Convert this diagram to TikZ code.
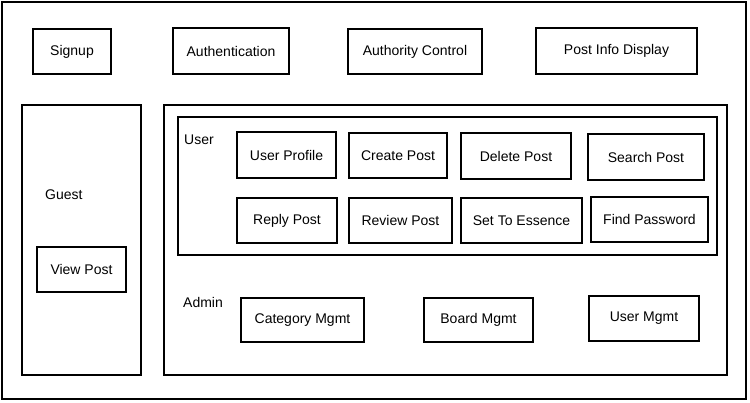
\documentclass[tikz,border=0pt]{standalone}
\usepackage{fontspec}
\setmainfont{Liberation Sans}
\begin{document}
\begin{tikzpicture}[x=1pt,y=-1pt,
  box/.style={draw=black, line width=2.2pt, rectangle, inner sep=0pt, font=\fontsize{14}{16}\selectfont},
  frame/.style={draw=black, line width=2.2pt, rectangle, inner sep=0pt},
  lbl/.style={inner sep=0pt, anchor=west, font=\fontsize{14}{16}\selectfont}]
\useasboundingbox (0,0) rectangle (750,403);
\fill[white] (0,0) rectangle (750,403);
% outer frame
\node[frame, minimum width=744pt, minimum height=397pt] (outer) at (374,200.5) {};
% top row
\node[box, minimum width=78pt, minimum height=45pt] (signup) at (72,51.5) {Signup};
\node[box, minimum width=116pt, minimum height=46pt] (auth) at (231,51) {Authentication};
\node[box, minimum width=134pt, minimum height=45pt] (authz) at (415,51.5) {Authority Control};
\node[box, minimum width=161pt, minimum height=46pt] (pinfo) at (616.5,51) {Post Info Display};
% guest
\node[frame, minimum width=119pt, minimum height=270pt] (guestbox) at (81.5,240) {};
\node[lbl] (guest) at (45,195) {Guest};
\node[box, minimum width=89pt, minimum height=45pt] (view) at (81.5,269.5) {View Post};
% main
\node[frame, minimum width=563pt, minimum height=270pt] (mainbox) at (445.5,240) {};
\node[frame, minimum width=539pt, minimum height=138pt] (userbox) at (447.5,186) {};
\node[lbl] (user) at (184,140) {User};
\node[box, minimum width=99pt, minimum height=46pt] (uprof) at (286.5,155) {User Profile};
\node[box, minimum width=98pt, minimum height=45pt] (cpost) at (398,155.5) {Create Post};
\node[box, minimum width=110pt, minimum height=46pt] (dpost) at (516,156) {Delete Post};
\node[box, minimum width=116pt, minimum height=46pt] (spost) at (646,157) {Search Post};
\node[box, minimum width=100pt, minimum height=45pt] (rpost) at (287,220.5) {Reply Post};
\node[box, minimum width=103pt, minimum height=45pt] (rvpost) at (400.5,220.5) {Review Post};
\node[box, minimum width=121pt, minimum height=45pt] (ess) at (521.5,220.5) {Set To Essence};
\node[box, minimum width=117pt, minimum height=45pt] (fpw) at (649.5,219.5) {Find Password};
\node[lbl] (admin) at (183,302) {Admin};
\node[box, minimum width=123pt, minimum height=44pt] (cat) at (302.5,320) {Category Mgmt};
\node[box, minimum width=109pt, minimum height=44pt] (board) at (478.5,320) {Board Mgmt};
\node[box, minimum width=110pt, minimum height=45pt] (umgmt) at (644,318.5) {User Mgmt};
\end{tikzpicture}
\end{document}
